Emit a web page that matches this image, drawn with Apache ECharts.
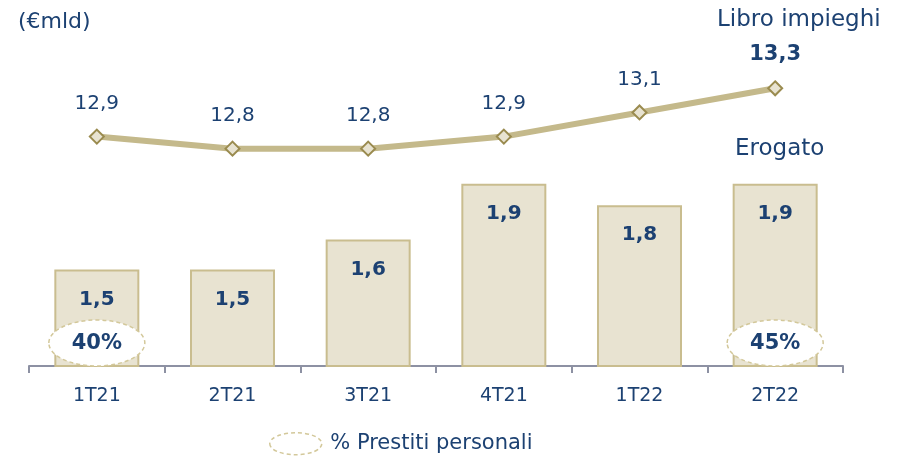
<!DOCTYPE html>
<html>
<head>
<meta charset="utf-8">
<script src="https://cdn.jsdelivr.net/npm/echarts@6/dist/echarts.min.js"></script>
<style>
  html, body { margin: 0; padding: 0; background: #fff; }
  #main { width: 899px; height: 459px; }
</style>
</head>
<body>
<div id="main"></div>
<script>
// dati
var categories = ['1T21', '2T21', '3T21', '4T21', '1T22', '2T22'];
var erogato = [1.5, 1.5, 1.64, 1.9, 1.8, 1.9];          // barre (€mld)
var libroImpieghi = [12.9, 12.8, 12.8, 12.9, 13.1, 13.3]; // linea (€mld)
var prestitiPersonali = [40, null, null, null, null, 45]; // % sul erogato

var blu = '#1c4172';
var font = 'DejaVu Sans';

function virgola(v) {
  return v.toFixed(1).replace('.', ',');
}

var myChart = echarts.init(document.getElementById('main'));

var option = {
  animation: false,
  textStyle: { fontFamily: font, color: blu },
  grid: { left: 29, right: 56, top: 40, bottom: 93 },
  legend: {
    data: ['% Prestiti personali'],
    left: 264,
    top: 427,
    itemWidth: 53,
    itemHeight: 22,
    icon: 'path://M0,11 A26,11 0 1,0 52,11 A26,11 0 1,0 0,11 Z',
    itemStyle: { color: '#fff', borderColor: '#d3c89a', borderWidth: 1.5, borderType: [4, 3] },
    textStyle: { color: blu, fontSize: 21, fontFamily: font, padding: [0, 0, 0, 3] }
  },
  xAxis: {
    type: 'category',
    data: categories,
    axisLine: { lineStyle: { color: '#8d91a3', width: 2 } },
    axisTick: { show: true, length: 7, lineStyle: { color: '#8d91a3', width: 2 } },
    axisLabel: { color: blu, fontSize: 19, margin: 21, fontFamily: font }
  },
  yAxis: [
    { type: 'value', min: 1.05, max: 2.57, show: false, splitLine: { show: false } },
    { type: 'value', min: 11, max: 13.7, show: false, splitLine: { show: false } }
  ],
  graphic: [
    { type: 'text', left: 18, top: 11, style: { text: '(€mld)', fill: blu, font: '22px ' + font } },
    { type: 'text', left: 717, top: 9, style: { text: 'Libro impieghi', fill: blu, font: '23px ' + font } },
    { type: 'text', left: 735, top: 138, style: { text: 'Erogato', fill: blu, font: '23px ' + font } }
  ],
  series: [
    {
      name: 'Erogato',
      type: 'bar',
      yAxisIndex: 0,
      data: erogato,
      barWidth: 85,
      itemStyle: { color: '#e8e3d1', borderColor: '#c9bd8f', borderWidth: 2 },
      label: {
        show: true,
        position: 'insideTop',
        distance: 20,
        color: blu,
        fontWeight: 'bold',
        fontSize: 20,
        fontFamily: font,
        formatter: function (p) { return virgola(p.value); }
      }
    },
    {
      name: 'Libro impieghi',
      type: 'line',
      yAxisIndex: 1,
      data: libroImpieghi,
      symbol: 'diamond',
      symbolSize: 14,
      lineStyle: { color: '#c4b98b', width: 6 },
      itemStyle: { color: '#e8e3d1', borderColor: '#9a8b4f', borderWidth: 2 },
      label: {
        show: true,
        position: 'top',
        distance: 15,
        color: blu,
        fontSize: 20,
        fontFamily: font,
        formatter: function (p) {
          return p.dataIndex === libroImpieghi.length - 1 ? '{b|' + virgola(p.value) + '}' : virgola(p.value);
        },
        rich: { b: { fontWeight: 'bold', fontSize: 21, color: blu, fontFamily: font } }
      },
      z: 5
    },
    {
      name: '% Prestiti personali',
      type: 'custom',
      yAxisIndex: 0,
      data: prestitiPersonali.map(function (v, i) { return [i, v]; }),
      encode: { x: 0, y: 1 },
      itemStyle: { color: '#fff' },
      renderItem: function (params, api) {
        var v = api.value(1);
        if (v == null || isNaN(v)) return null;
        var cs = params.coordSys;
        var cx = api.coord([api.value(0), 1.05])[0];
        var cy = cs.y + cs.height - 23;
        return {
          type: 'group',
          children: [
            {
              type: 'ellipse',
              shape: { cx: cx, cy: cy, rx: 48, ry: 23 },
              style: { fill: '#fff', stroke: '#d3c89a', lineWidth: 1.5, lineDash: [4, 3] }
            },
            {
              type: 'text',
              style: {
                text: v + '%', x: cx, y: cy + 1, align: 'center', verticalAlign: 'middle',
                fill: blu, font: 'bold 21px ' + font
              }
            }
          ]
        };
      },
      z: 6
    }
  ]
};

myChart.setOption(option);
</script>
</body>
</html>
